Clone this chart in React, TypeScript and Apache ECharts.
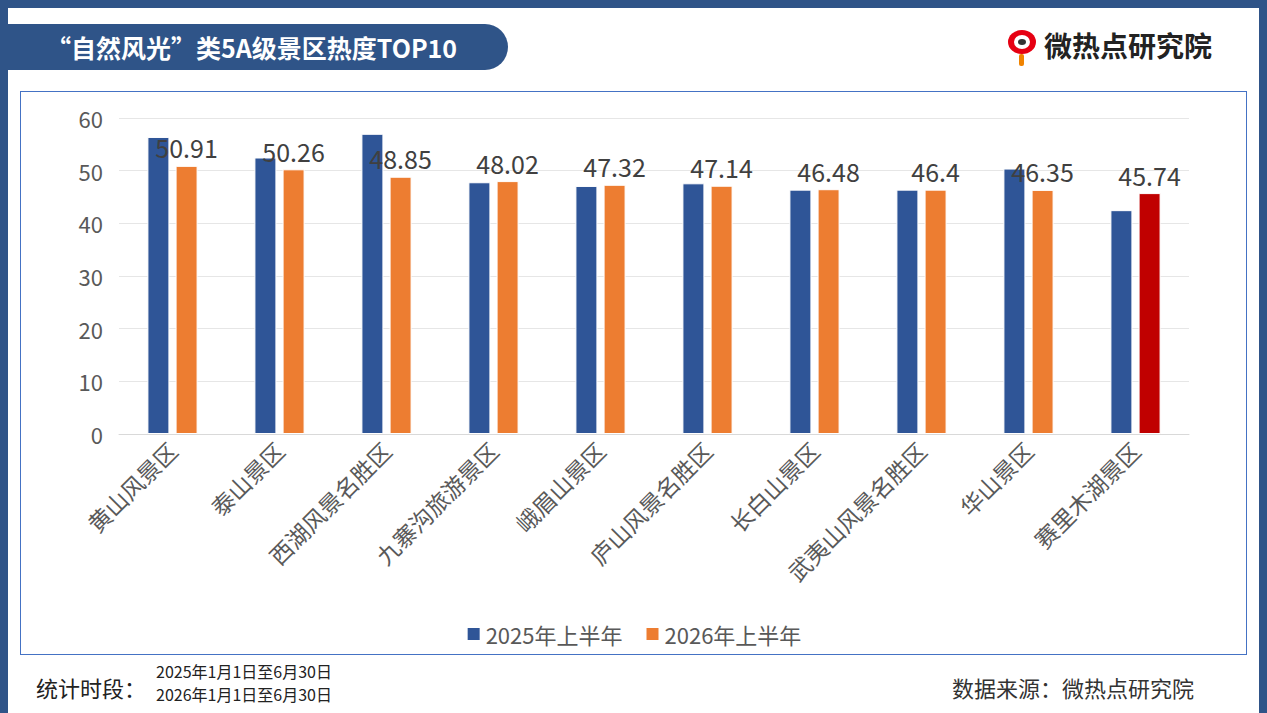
import React, { useEffect, useRef } from "react";
import * as echarts from "echarts";

const categories = ["黄山风景区", "泰山景区", "西湖风景名胜区", "九寨沟旅游景区", "峨眉山景区", "庐山风景名胜区", "长白山景区", "武夷山风景名胜区", "华山景区", "赛里木湖景区"];
const values2025 = [56.4, 52.5, 57.0, 47.8, 47.1, 47.6, 46.4, 46.4, 50.4, 42.5];
const values2026 = [50.91, 50.26, 48.85, 48.02, 47.32, 47.14, 46.48, 46.4, 46.35, 45.74];
const seriesNames = ["2025年上半年", "2026年上半年"];

const font = "'Noto Sans CJK SC', 'Noto Sans', sans-serif";

const App: React.FC = () => {
  const chartRef = useRef<HTMLDivElement>(null);

  useEffect(() => {
    if (!chartRef.current) return;
    const chart = echarts.init(chartRef.current, undefined, { renderer: "svg" });
    chart.setOption({
      animation: false,
      textStyle: { fontFamily: font },
      grid: { left: 98, right: 57, top: 26, bottom: 220 },
      legend: {
        bottom: 4,
        itemWidth: 14,
        itemHeight: 14,
        itemGap: 22,
        icon: "rect",
        textStyle: { fontSize: 22, color: "#595959" },
        data: seriesNames,
      },
      xAxis: {
        type: "category",
        data: categories,
        axisTick: { show: false },
        axisLine: { lineStyle: { color: "#d9d9d9" } },
        axisLabel: { rotate: 45, fontSize: 23, color: "#595959", margin: 12, interval: 0 },
      },
      yAxis: {
        type: "value",
        min: 0,
        max: 60,
        interval: 10,
        axisLabel: { fontSize: 22, color: "#595959", margin: 16 },
        splitLine: { lineStyle: { color: "#e6e6e6" } },
      },
      series: [
        {
          name: seriesNames[0],
          type: "bar",
          data: values2025,
          barWidth: 22,
          barGap: "28%",
          itemStyle: { color: "#2F5597", borderColor: "#fff", borderWidth: 1 },
        },
        {
          name: seriesNames[1],
          type: "bar",
          data: values2026.map((v, i) =>
            i === values2026.length - 1 ? { value: v, itemStyle: { color: "#C00000" } } : v
          ),
          barWidth: 22,
          itemStyle: { color: "#ED7D31", borderColor: "#fff", borderWidth: 1 },
          label: { show: true, position: "top", fontSize: 25, color: "#404040", distance: 6 },
        },
      ],
    });
    return () => chart.dispose();
  }, []);

  return (
    <div style={{ position: "fixed", left: 0, top: 0, width: 1267, height: 713, background: "#fff", fontFamily: font, boxSizing: "border-box", border: "8px solid #2F5488", borderBottom: "none", overflow: "hidden" }}>
      <div style={{ position: "absolute", left: -8, top: 16, width: 508, height: 46, background: "#2F5488", borderRadius: "0 23px 23px 0", color: "#fff", fontSize: 25, fontWeight: 700, lineHeight: "46px", paddingLeft: 46, boxSizing: "border-box" }}>
        “自然风光”类5A级景区热度TOP10
      </div>
      <div style={{ position: "absolute", left: 998, top: 16, display: "flex", alignItems: "center" }}>
        <div style={{ position: "relative", width: 38, height: 42 }}>
          <div style={{ position: "absolute", left: 2, top: 6, width: 28, height: 24, borderRadius: "50%", background: "#E60012" }} />
          <div style={{ position: "absolute", left: 8, top: 11, width: 16, height: 14, borderRadius: "50%", background: "#fff" }} />
          <div style={{ position: "absolute", left: 12, top: 15, width: 8, height: 6, borderRadius: "50%", background: "#333" }} />
          <div style={{ position: "absolute", left: 13, top: 30, width: 5, height: 12, background: "#F08300", borderRadius: 2 }} />
        </div>
        <div style={{ fontSize: 28, fontWeight: 700, color: "#222", letterSpacing: 0 }}>微热点研究院</div>
      </div>
      <div style={{ position: "absolute", left: 12, top: 83, width: 1227, height: 564, border: "1px solid #4472C4", boxSizing: "border-box" }}>
        <div ref={chartRef} style={{ width: "100%", height: "100%" }} />
      </div>
      <div style={{ position: "absolute", left: 28, top: 664, fontSize: 22, lineHeight: "30px", color: "#222" }}>统计时段：</div>
      <div style={{ position: "absolute", left: 148, top: 652, fontSize: 16, color: "#222", lineHeight: "23px" }}>
        <div style={{ height: 23 }}>2025年1月1日至6月30日</div>
        <div style={{ height: 23 }}>2026年1月1日至6月30日</div>
      </div>
      <div style={{ position: "absolute", left: 944, top: 664, fontSize: 22, lineHeight: "30px", color: "#333" }}>数据来源：微热点研究院</div>
    </div>
  );
};

export default App;
